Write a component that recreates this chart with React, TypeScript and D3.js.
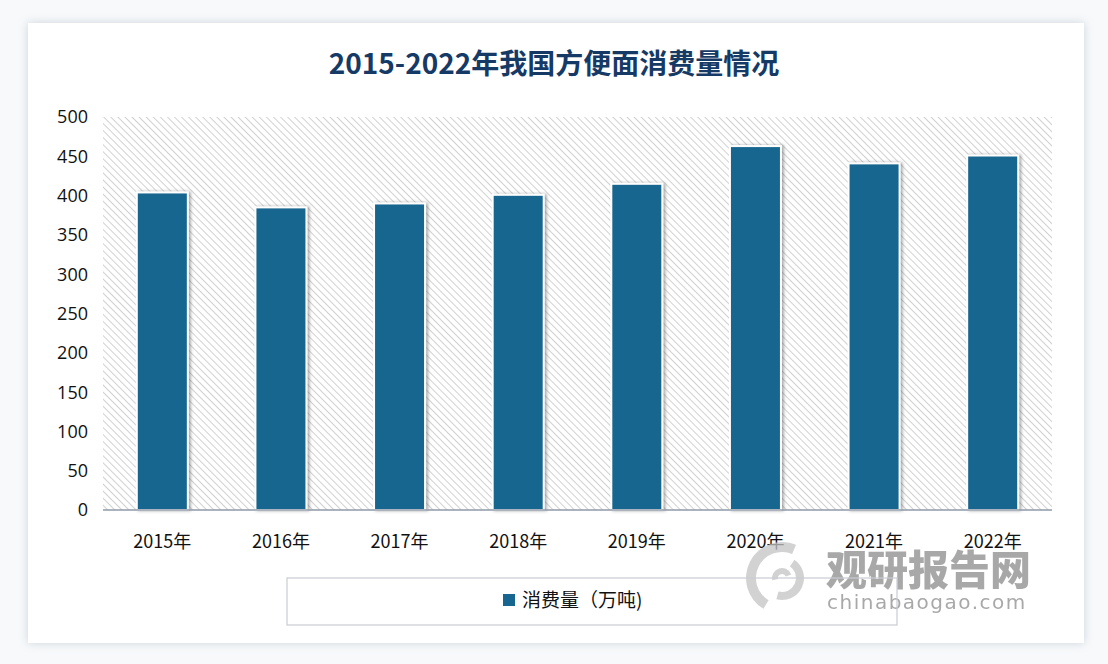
import * as d3 from 'd3'
import { useEffect, useRef } from 'react'

const years = ['2015年', '2016年', '2017年', '2018年', '2019年', '2020年', '2021年', '2022年'];
const consumption = [404, 385, 390, 401, 415, 463, 441, 451];
const yTicks = [0, 50, 100, 150, 200, 250, 300, 350, 400, 450, 500];
const title = '2015-2022年我国方便面消费量情况';
const seriesName = '消费量（万吨)';

const W = 1108;
const H = 664;

const App = () => {
    const ref = useRef<SVGSVGElement>(null);

    useEffect(() => {
        const svg = d3.select(ref.current);
        svg.selectAll('*').remove();

        const margin = { top: 117, right: 56, bottom: 154, left: 103 };
        const innerW = W - margin.left - margin.right;
        const innerH = H - margin.top - margin.bottom;

        const defs = svg.append('defs');

        // diagonal hatch for plot background
        const pat = defs.append('pattern')
            .attr('id', 'hatch')
            .attr('patternUnits', 'userSpaceOnUse')
            .attr('width', 5)
            .attr('height', 5)
            .attr('patternTransform', 'rotate(-45)');
        pat.append('rect').attr('width', 5).attr('height', 5).attr('fill', '#ffffff');
        pat.append('line')
            .attr('x1', 0).attr('y1', 0).attr('x2', 0).attr('y2', 5)
            .attr('stroke', '#bdbdbd').attr('stroke-width', 1.4);

        const card = defs.append('filter').attr('id', 'cardShadow')
            .attr('x', '-5%').attr('y', '-5%').attr('width', '110%').attr('height', '110%');
        card.append('feDropShadow').attr('dx', 0).attr('dy', 0).attr('stdDeviation', 5)
            .attr('flood-color', '#9aa4b0').attr('flood-opacity', 0.45);

        const barShadow = defs.append('filter').attr('id', 'barShadow')
            .attr('x', '-20%').attr('y', '-10%').attr('width', '150%').attr('height', '120%');
        barShadow.append('feDropShadow').attr('dx', 2).attr('dy', 0).attr('stdDeviation', 1.8)
            .attr('flood-color', '#555').attr('flood-opacity', 0.5);

        // page background + card
        svg.append('rect').attr('width', W).attr('height', H).attr('fill', '#f7f9fb');
        svg.append('rect')
            .attr('x', 28).attr('y', 23).attr('width', 1056).attr('height', 620)
            .attr('fill', '#ffffff').attr('filter', 'url(#cardShadow)');

        svg.append('text')
            .attr('x', 554).attr('y', 74)
            .attr('text-anchor', 'middle')
            .attr('font-family', '"Noto Sans CJK SC", sans-serif')
            .attr('font-weight', 700)
            .attr('font-size', 28)
            .attr('fill', '#163a66')
            .text(title);

        const g = svg.append('g').attr('transform', `translate(${margin.left},${margin.top})`);

        const x = d3.scaleBand().domain(years).range([0, innerW]).paddingInner(0.57).paddingOuter(0.285);
        const y = d3.scaleLinear().domain([0, 500]).range([innerH, 0]);

        g.append('rect').attr('width', innerW).attr('height', innerH).attr('fill', 'url(#hatch)');

        // y axis labels
        g.append('g')
            .selectAll('text')
            .data(yTicks)
            .join('text')
            .attr('x', -15)
            .attr('y', d => y(d))
            .attr('dy', '0.36em')
            .attr('text-anchor', 'end')
            .attr('font-family', '"Open Sans", sans-serif')
            .attr('font-size', 18)
            .attr('fill', '#111')
            .text(d => d);

        // bars
        g.append('g')
            .selectAll('rect')
            .data(consumption)
            .join('rect')
            .attr('x', (_, i) => x(years[i])!)
            .attr('y', d => y(d))
            .attr('width', x.bandwidth())
            .attr('height', d => innerH - y(d))
            .attr('fill', '#17668f')
            .attr('stroke', '#ffffff')
            .attr('stroke-width', 2)
            .attr('filter', 'url(#barShadow)');

        // baseline
        g.append('line')
            .attr('x1', 0).attr('x2', innerW)
            .attr('y1', innerH).attr('y2', innerH)
            .attr('stroke', '#8e9aa8').attr('stroke-width', 1.5);

        // x labels
        g.append('g')
            .selectAll('text')
            .data(years)
            .join('text')
            .attr('x', d => x(d)! + x.bandwidth() / 2)
            .attr('y', innerH + 38)
            .attr('text-anchor', 'middle')
            .attr('font-family', '"Noto Sans CJK SC", sans-serif')
            .attr('font-size', 18)
            .attr('fill', '#111')
            .text(d => d);

        // watermark
        const wm = svg.append('g').attr('opacity', 0.75);
        const logo = wm.append('g').attr('transform', 'translate(782,578)');
        const arc = d3.arc();
        [
            { innerRadius: 26, outerRadius: 36, startAngle: -2.6, endAngle: 0.4 },
            { innerRadius: 14, outerRadius: 22, startAngle: 0.6, endAngle: 3.4 },
            { innerRadius: 4, outerRadius: 10, startAngle: -1.8, endAngle: 1.2 },
        ].forEach(a => {
            logo.append('path').attr('d', arc(a as any)).attr('fill', '#c4c4c4');
        });
        wm.append('text')
            .attr('x', 826).attr('y', 585)
            .attr('font-family', '"Noto Sans CJK SC", sans-serif')
            .attr('font-weight', 900)
            .attr('font-size', 41)
            .attr('fill', '#8c8c8c')
            .text('观研报告网');
        wm.append('text')
            .attr('x', 827).attr('y', 609)
            .attr('font-family', '"DejaVu Sans", sans-serif')
            .attr('font-size', 20)
            .attr('letter-spacing', 1.5)
            .attr('fill', '#8c8c8c')
            .text('chinabaogao.com');

        // legend
        const lg = svg.append('g');
        lg.append('rect')
            .attr('x', 287).attr('y', 578).attr('width', 610).attr('height', 47)
            .attr('fill', 'none').attr('stroke', '#c8ccd2').attr('stroke-width', 1.2);
        lg.append('rect')
            .attr('x', 503).attr('y', 594).attr('width', 12).attr('height', 12)
            .attr('fill', '#17668f');
        lg.append('text')
            .attr('x', 522).attr('y', 607)
            .attr('font-family', '"Noto Sans CJK SC", sans-serif')
            .attr('font-size', 19)
            .attr('fill', '#111')
            .text(seriesName);
    }, []);

    return (
        <svg ref={ref} width={W} height={H} style={{ position: 'absolute', left: 0, top: 0 }} />
    );
};

export default App;
